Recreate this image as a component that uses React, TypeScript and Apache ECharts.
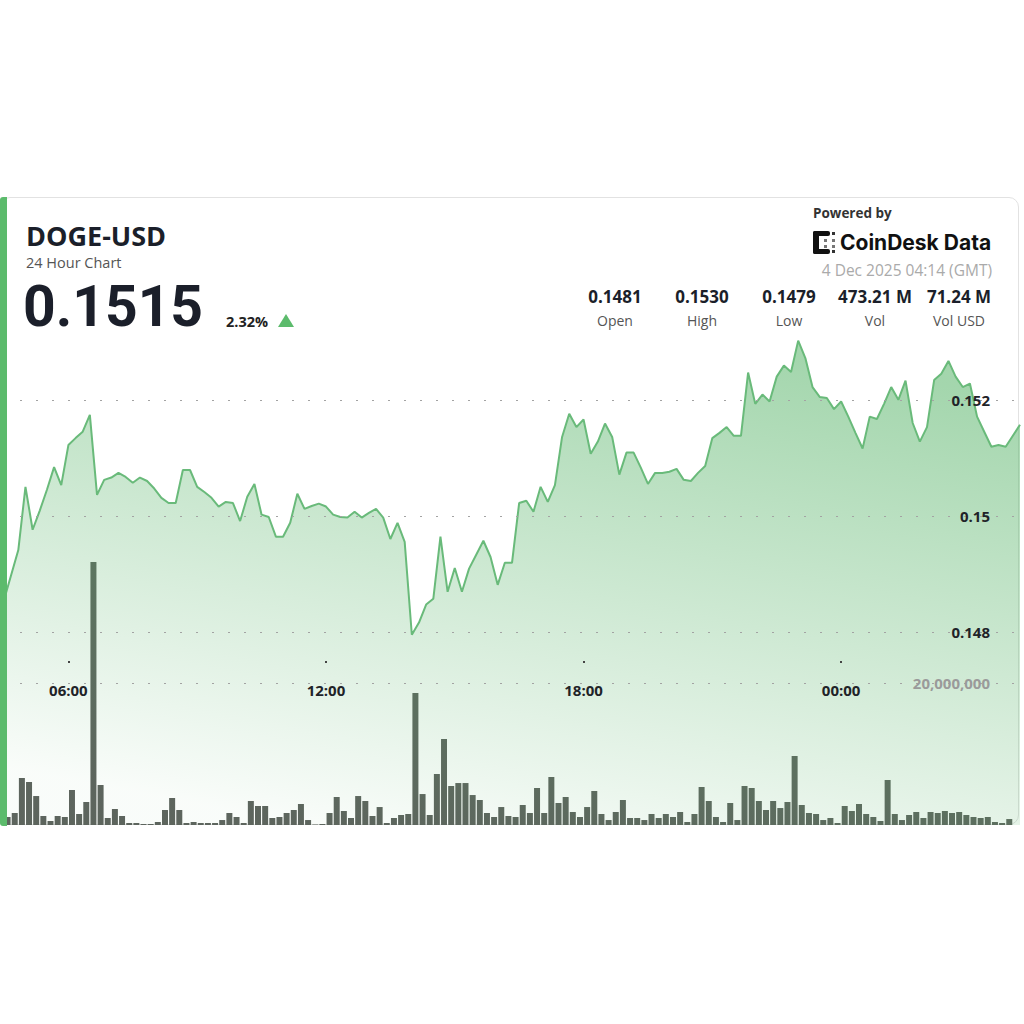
import React, { useEffect, useRef } from "react";
import * as echarts from "echarts";

// ---- data ----
const startMinute = 270; // 04:30 (3 Dec)
const stepMinutes = 10;
const priceValues = [
  0.14855, 0.14898, 0.14941, 0.1505, 0.14976, 0.15009, 0.15045, 0.15084, 0.15053, 0.15122,
  0.15134, 0.15145, 0.15174, 0.15036, 0.15062, 0.15066, 0.15074, 0.15067, 0.15057, 0.15066,
  0.1506, 0.15047, 0.15031, 0.15022, 0.15022, 0.15079, 0.15079, 0.1505, 0.15041, 0.15031,
  0.15016, 0.15024, 0.15022, 0.14991, 0.15033, 0.15055, 0.15002, 0.14998, 0.14964, 0.14964,
  0.14988, 0.15038, 0.15012, 0.15017, 0.15021, 0.15016, 0.15002, 0.14998, 0.14997, 0.15007,
  0.14997, 0.15005, 0.15012, 0.14997, 0.1496, 0.14988, 0.14955, 0.14795, 0.14816, 0.14847,
  0.14857, 0.14964, 0.14869, 0.1491, 0.14869, 0.14909, 0.14933, 0.14957, 0.14929, 0.14881,
  0.14919, 0.14919, 0.15022, 0.15026, 0.15007, 0.1505, 0.15024, 0.15053, 0.15136, 0.15176,
  0.15153, 0.15166, 0.15107, 0.15128, 0.15159, 0.15136, 0.15071, 0.15109, 0.15109, 0.15083,
  0.15055, 0.15074, 0.15074, 0.15076, 0.15081, 0.15062, 0.1506, 0.15074, 0.15086, 0.15134,
  0.15143, 0.15153, 0.15138, 0.15138, 0.15247, 0.15193, 0.15209, 0.15197, 0.1524, 0.15259,
  0.15248, 0.15302, 0.15272, 0.15222, 0.15205, 0.15203, 0.15184, 0.15197, 0.15171, 0.15143,
  0.15116, 0.15171, 0.15167, 0.15193, 0.15222, 0.152, 0.15233, 0.1516, 0.15128, 0.15153,
  0.15234, 0.15245, 0.15267, 0.1524, 0.15222, 0.15228, 0.15171, 0.15145, 0.15119, 0.15122,
  0.15119, 0.15138, 0.15157,
];
// volume per 10-minute interval, in millions of DOGE
const volumeMillions = [
  1.13, 1.69, 6.62, 6.05, 4.08, 1.27, 0.56, 1.27, 1.13, 4.93, 1.55, 3.24, 37.03, 5.63, 0.99,
  2.25, 1.27, 0.28, 0.28, 0.14, 0.14, 0.42, 2.11, 3.8, 2.11, 0.28, 0.42, 0.28, 0.28, 0.28,
  0.7, 1.69, 1.13, 0.28, 3.38, 2.68, 2.68, 0.99, 1.13, 1.69, 2.11, 2.96, 0.7, 0.07, 0.14,
  1.69, 3.94,
  1.97, 0.99, 4.08, 3.38, 1.27, 2.53, 0.28, 0.99, 1.41, 1.55, 18.59, 4.36, 1.41, 7.18, 12.11,
  5.49, 5.91, 5.91, 4.22, 3.52, 1.69, 1.13, 2.53, 1.27, 1.13, 2.82, 1.69, 5.21, 1.69, 6.76,
  3.1, 3.94, 1.83, 1.13, 2.53, 4.79, 1.55, 0.7, 1.83, 3.52, 0.99, 0.99, 0.7, 1.55, 0.99,
  1.55, 1.13,
  1.83, 0.42, 1.55, 5.35, 3.38, 1.13, 0.42, 3.1, 0.7, 5.49, 5.21, 3.38, 2.11, 3.38, 2.39,
  3.24, 9.72, 2.82, 1.69, 1.55, 0.7, 0.99, 0.28, 2.68, 1.97, 2.96, 1.55, 1.13, 0.56, 6.34,
  1.55, 0.7, 1.41, 1.83, 0.99, 1.83, 1.69, 1.97, 1.69, 1.83, 1.41, 1.13, 0.99, 1.13, 0.42,
  0.28, 0.84,
];
const timeTicks = [360, 720, 1080, 1440];
const priceTicks = [0.148, 0.15, 0.152];
const priceGridStep = 0.002;
const volumeTicks = [20];

const title = "DOGE-USD";
const subtitle = "24 Hour Chart";
const lastPrice = "0.1515";
const changePct = "2.32%";
const poweredBy = "Powered by";
const brand = "CoinDesk Data";
const timestamp = "4 Dec 2025 04:14 (GMT)";
const statValues = ["0.1481", "0.1530", "0.1479", "473.21 M", "71.24 M"];
const statLabels = ["Open", "High", "Low", "Vol", "Vol USD"];

const FONT = "'Open Sans', 'Noto Sans', sans-serif";

export default function App() {
  const ref = useRef<HTMLDivElement>(null);

  useEffect(() => {
    if (!ref.current) return;
    const chart = echarts.init(ref.current, null, { renderer: "svg" });

    const priceData = priceValues.map((v, i) => [startMinute + i * stepMinutes, v]);
    const volData = volumeMillions.map((v, i) => [startMinute + stepMinutes / 2 + i * stepMinutes, v]);
    const xMin = startMinute;
    const xMax = startMinute + (priceValues.length - 1) * stepMinutes;

    const fmtTime = (v: number) => {
      const h = Math.floor(v / 60) % 24;
      const m = Math.round(v % 60);
      return String(h).padStart(2, "0") + ":" + String(m).padStart(2, "0");
    };

    const dotted = { type: [2, 14] as any, color: "#a3a3a3", width: 1.2 };

    const statCenters = [615, 702, 789, 875, 959];
    const statGraphics: any[] = [];
    statValues.forEach((v, i) => {
      statGraphics.push({
        type: "text",
        x: statCenters[i],
        y: 296,
        style: { text: v, font: `bold 17px ${FONT}`, fill: "#1b1f2a", textAlign: "center", textVerticalAlign: "middle" },
      });
      statGraphics.push({
        type: "text",
        x: statCenters[i],
        y: 320,
        style: { text: statLabels[i], font: `14px ${FONT}`, fill: "#555", textAlign: "center", textVerticalAlign: "middle" },
      });
    });

    const axisFont = { fontFamily: FONT, fontWeight: "bold", fontSize: 15 };

    const option: any = {
      animation: false,
      backgroundColor: "transparent",
      grid: [
        { left: 4, right: 4, top: 307, bottom: 199 },
        { left: 4, right: 4, top: 541, bottom: 199 },
        { left: 4, right: 4, top: 300, bottom: 363 },
        { left: 4, right: 4, top: 400, bottom: 392 },
      ],
      xAxis: [
        { type: "value", gridIndex: 0, min: xMin, max: xMax, show: false },
        { type: "value", gridIndex: 1, min: xMin, max: xMax, show: false },
        {
          type: "value",
          gridIndex: 2,
          min: xMin,
          max: xMax,
          z: 10,
          axisLine: { show: false },
          splitLine: { show: false },
          axisTick: { show: true, length: 2, customValues: timeTicks, lineStyle: { color: "#444", width: 2 } },
          axisLabel: {
            customValues: timeTicks,
            formatter: (v: number) => fmtTime(v),
            margin: 21,
            ...axisFont,
            color: "#1f2328",
          },
        },
        { type: "value", gridIndex: 3, min: xMin, max: xMax, show: false },
      ],
      yAxis: [
        {
          type: "value",
          gridIndex: 0,
          position: "right",
          min: 0.14467,
          max: 0.1536,
          z: 10,
          axisLine: { show: false },
          axisTick: { show: false },
          splitLine: { show: false },
          axisLabel: {
            inside: true,
            margin: 30,
            customValues: priceTicks,
            formatter: (v: number) => String(parseFloat(v.toFixed(3))),
            ...axisFont,
            color: "#1f2328",
          },
        },
        {
          type: "value",
          gridIndex: 1,
          position: "right",
          min: 0,
          max: 40,
          z: 10,
          axisLine: { show: false },
          axisTick: { show: false },
          splitLine: { show: false },
          axisLabel: {
            inside: true,
            margin: 30,
            customValues: volumeTicks,
            formatter: (v: number) => Math.round(v * 1e6).toLocaleString("en-US"),
            ...axisFont,
            color: "#9a9a9a",
          },
        },
        { type: "value", gridIndex: 2, min: 0, max: 1, show: false },
        {
          // overlay axis that only draws the dotted price grid lines above the area fill
          type: "value",
          gridIndex: 3,
          min: priceTicks[0],
          max: priceTicks[priceTicks.length - 1],
          interval: priceGridStep,
          z: 9,
          axisLine: { show: false },
          axisTick: { show: false },
          axisLabel: { show: false },
          splitLine: { show: true, lineStyle: dotted },
        },
      ],
      series: [
        {
          type: "line",
          xAxisIndex: 0,
          yAxisIndex: 0,
          data: priceData,
          symbol: "none",
          lineStyle: { color: "#69ba7a", width: 2 },
          areaStyle: {
            origin: "start",
            color: new echarts.graphic.LinearGradient(0.7, 0, 0.3, 1, [
              { offset: 0, color: "rgba(88,180,105,0.78)" },
              { offset: 1, color: "rgba(88,180,105,0.05)" },
            ]),
          },
        },
        {
          type: "bar",
          xAxisIndex: 1,
          yAxisIndex: 1,
          data: volData,
          barWidth: 6,
          itemStyle: { color: "#5d625d" },
          markLine: {
            silent: true,
            symbol: "none",
            label: { show: false },
            lineStyle: dotted,
            data: volumeTicks.map((v) => ({ yAxis: v })),
          },
        },
      ],
      graphic: [
        { type: "rect", z: 100, shape: { x: 0, y: 197, width: 7, height: 629, r: [3, 0, 0, 3] }, style: { fill: "#5cbb6c" } },
        { type: "text", x: 26, y: 235, style: { text: title, font: `bold 27px ${FONT}`, fill: "#1b1f2a", textVerticalAlign: "middle" } },
        { type: "text", x: 26, y: 262, style: { text: subtitle, font: `14.5px ${FONT}`, fill: "#555", textVerticalAlign: "middle" } },
        { type: "text", x: 23, y: 306, style: { text: lastPrice, font: `bold 57px Roboto, ${FONT}`, fill: "#1b1f2a", textVerticalAlign: "middle" } },
        { type: "text", x: 226, y: 321, style: { text: changePct, font: `bold 14.5px ${FONT}`, fill: "#222", textVerticalAlign: "middle" } },
        { type: "polygon", shape: { points: [[278, 327], [294, 327], [286, 314]] }, style: { fill: "#5cbb6c" } },
        { type: "text", x: 813, y: 213, style: { text: poweredBy, font: `bold 13.5px ${FONT}`, fill: "#333", textVerticalAlign: "middle" } },
        // logo
        { type: "rect", shape: { x: 813, y: 231, width: 6, height: 23, r: 2 }, style: { fill: "#111" } },
        { type: "rect", shape: { x: 813, y: 231, width: 17, height: 5, r: 2 }, style: { fill: "#111" } },
        { type: "rect", shape: { x: 813, y: 249, width: 17, height: 5, r: 2 }, style: { fill: "#111" } },
        { type: "rect", shape: { x: 832, y: 232, width: 3, height: 3 }, style: { fill: "#333" } },
        { type: "rect", shape: { x: 832, y: 250, width: 3, height: 3 }, style: { fill: "#333" } },
        { type: "rect", shape: { x: 824, y: 239, width: 3, height: 3 }, style: { fill: "#777" } },
        { type: "rect", shape: { x: 832, y: 239, width: 3, height: 3 }, style: { fill: "#777" } },
        { type: "rect", shape: { x: 824, y: 245, width: 3, height: 3 }, style: { fill: "#777" } },
        { type: "rect", shape: { x: 832, y: 245, width: 3, height: 3 }, style: { fill: "#777" } },
        { type: "text", x: 840, y: 242, style: { text: brand, font: `bold 21px Inter, ${FONT}`, fill: "#111", textVerticalAlign: "middle" } },
        { type: "text", x: 992, y: 270, style: { text: timestamp, font: `15.5px ${FONT}`, fill: "#aaa", textAlign: "right", textVerticalAlign: "middle" } },
        ...statGraphics,
      ],
    };

    chart.setOption(option);
    return () => chart.dispose();
  }, []);

  return (
    <div style={{ position: "fixed", left: 0, top: 0, width: 1024, height: 1024, background: "#fff" }}>
      <div
        style={{
          position: "absolute",
          left: 0,
          top: 197,
          width: 1019,
          height: 628,
          border: "1px solid #e2e2e2",
          borderRadius: 10,
          boxSizing: "border-box",
        }}
      />
      <div ref={ref} style={{ position: "absolute", left: 0, top: 0, width: 1024, height: 1024 }} />
    </div>
  );
}
